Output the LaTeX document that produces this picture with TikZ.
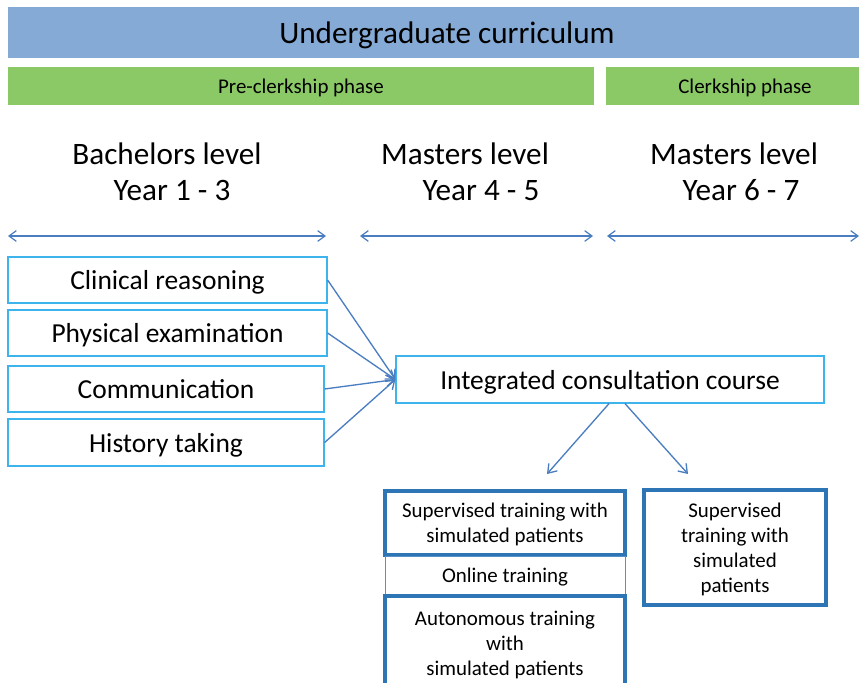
\documentclass[tikz,border=0pt]{standalone}
\usepackage{fontspec}
\setmainfont{Carlito}
\usetikzlibrary{arrows.meta}
\definecolor{barblue}{HTML}{85AAD6}
\definecolor{phasegreen}{HTML}{8BC866}
\definecolor{boxline}{HTML}{3DB4EC}
\definecolor{arrowblue}{HTML}{4A7EC0}
\definecolor{thickline}{HTML}{2E75B6}

\begin{document}
\begin{tikzpicture}[x=0.75pt, y=-0.75pt, inner sep=0pt,
   bar/.style={fill=barblue, minimum width=658.5pt, minimum height=38.25pt, text depth=0pt, font=\fontsize{23.4}{28}\selectfont},
   phase/.style={fill=phasegreen, minimum height=28.5pt, text depth=0pt, font=\fontsize{15.7}{19}\selectfont},
   level/.style={align=center, font=\fontsize{23.4}{27}\selectfont},
   topic/.style={draw=boxline, line width=0.9pt, minimum height=34.5pt, text depth=0pt, font=\fontsize{20.6}{24}\selectfont},
   small/.style={align=center, text depth=0pt, font=\fontsize{15.7}{18.75}\selectfont},
   thickbox/.style={small, draw=thickline, line width=2.3pt, minimum width=180pt},
   onlinebox/.style={small, draw=thickline!80, line width=0.6pt, minimum width=180pt, minimum height=29.25pt},
   dbl/.style={{Straight Barb[length=5.5pt,width=8pt]}-{Straight Barb[length=5.5pt,width=8pt]}, draw=arrowblue, line width=0.9pt},
   arr/.style={-{Straight Barb[length=6pt,width=8.5pt]}, draw=arrowblue, line width=1pt}]
      \useasboundingbox (0,0) rectangle (859,682);

      \node[bar, name=ugc] at (447,32.5) {Undergraduate curriculum};
      \node[phase, name=pre, minimum width=439.5pt] at (301,86) {Pre-clerkship phase};
      \node[phase, name=clk, minimum width=208.5pt] at (745,86) {Clerkship phase};

      \node[level, name=bach] at (167,172) {Bachelors level\\\hspace*{7.5pt}Year 1 - 3};
      \node[level, name=mast] at (465,172) {Masters level\\\hspace*{24pt}Year 4 - 5};
      \node[level, name=mastb] at (734,172) {Masters level\\\hspace*{10.5pt}Year 6 - 7};

      \coordinate (a1) at (8,236);
      \coordinate (a2) at (326,236);
      \coordinate (b1) at (360,236);
      \coordinate (b2) at (593,236);
      \coordinate (c1) at (607,236);
      \coordinate (c2) at (859,236);

      \node[topic, name=clin, minimum width=239.25pt] at (167.5,280) {Clinical reasoning};
      \node[topic, name=phys, minimum width=239.25pt] at (167.5,333) {Physical examination};
      \node[topic, name=comm, minimum width=237pt] at (166,389) {Communication};
      \node[topic, name=hist, minimum width=237pt, minimum height=35.25pt] at (166,442.5) {History taking};

      \node[topic, name=integ, minimum width=321pt, minimum height=35.25pt] at (610,379.5) {Integrated consultation course};

      \coordinate (l) at (547,474);
      \coordinate (r) at (688,474);

      \node[thickbox, name=sup, minimum height=48pt] at (505,523) {Supervised training with\\simulated patients};
      \node[onlinebox, name=onl] at (505,575.5) {Online training};
      \node[thickbox, name=auto, minimum height=70.5pt] at (505,643) {Autonomous training\\with\\simulated patients};
      \node[thickbox, name=supb, minimum width=136.5pt, minimum height=86.25pt] at (735,547.5) {Supervised\\training with\\simulated\\patients};

      \path[every edge/.style=dbl]
         (a1) edge (a2)
         (b1) edge (b2)
         (c1) edge (c2);

      \path[every edge/.style=arr]
         (clin.east) edge (integ.west)
         (phys.east) edge (integ.west)
         (comm.east) edge (integ.west)
         (hist.east) edge (integ.west)
         ([xshift=-0.75pt]integ.south) edge (l)
         ([xshift=11.25pt]integ.south) edge (r);
   \end{tikzpicture}
\end{document}
